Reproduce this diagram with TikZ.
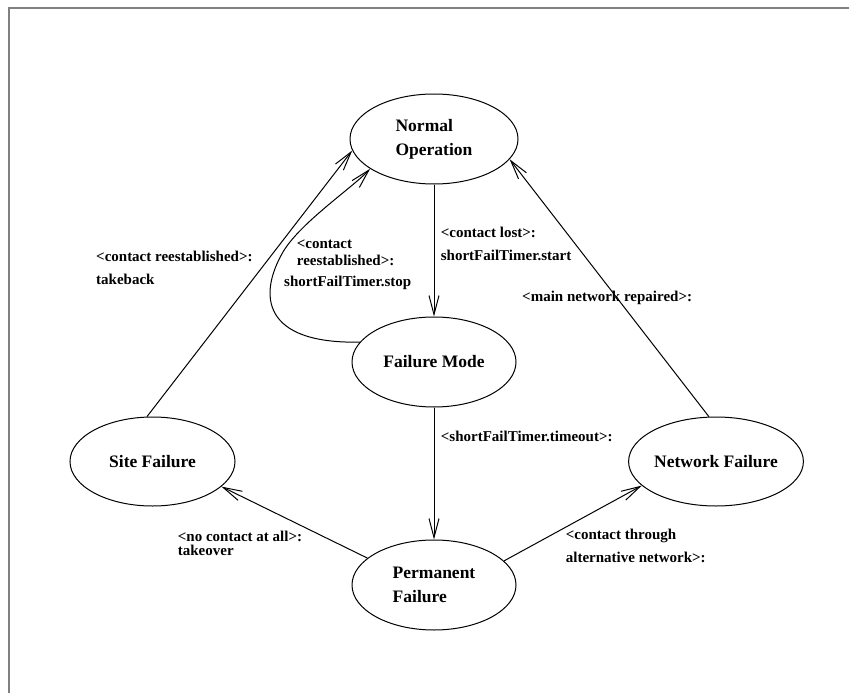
\documentclass[tikz,border=0pt]{standalone}
\usepackage{fontspec}
\setmainfont{Liberation Serif}
\usetikzlibrary{arrows.meta,shapes.geometric}
\begin{document}
\begin{tikzpicture}[x=1pt,y=-1pt,
  state/.style={draw, ellipse, line width=1pt, inner sep=0pt, align=left,
    font=\fontsize{17.5}{24}\selectfont\bfseries},
  trans/.style={line width=1pt, -{Straight Barb[length=19pt,width=10pt,line width=1pt]}},
  lbl/.style={anchor=base west, inner sep=0pt, align=left,
    font=\fontsize{15}{22.5}\selectfont\bfseries},
]
\useasboundingbox (0,0) rectangle (849,693);
% page frame (top and left edges only)
\draw[gray, line width=2pt] (8.5,693) -- (8.5,8.5) -- (849,8.5);

% states
\node[state, minimum width=168pt, minimum height=90pt] (no) at (434,139) {Normal\\Operation};
\node[state, minimum width=164pt, minimum height=90pt] (fm) at (434,362) {Failure Mode};
\node[state, minimum width=165pt, minimum height=89pt] (sf) at (152.5,461.5) {Site Failure};
\node[state, minimum width=166pt, minimum height=89pt] (nf) at (716,461.5) {Network Failure};
\node[state, minimum width=164pt, minimum height=90pt] (pf) at (434,585) {Permanent\\Failure};

% transitions
\draw[trans] (no) -- (fm);
\draw[trans] (fm) -- (pf);
\draw[trans] (fm.165.3) .. controls (262,344) and (258,295) .. (283,252)
                        .. controls (300,223) and (352,188) .. (no.205.8);
\draw[trans] (sf.97) -- (no.188);
\draw[trans] (nf.99.6) -- (no.345.1);
\draw[trans] (pf.158.6) -- (sf.340.7);
\draw[trans] (pf.19.9) -- (nf.198.1);

% transition labels (anchored at the baseline of their last line)
\node[lbl] (l1) at (440.7,260) {<contact lost>:\\shortFailTimer.start};
\node[lbl, font=\fontsize{15}{17}\selectfont\bfseries] (l2a) at (296.7,265.7) {<contact\\reestablished>:};
\node[lbl] (l2b) at (284,286.7) {shortFailTimer.stop};
\node[lbl] (l3) at (96,284) {<contact reestablished>:\\takeback};
\node[lbl] (l4) at (522,301) {<main network repaired>:};
\node[lbl] (l5) at (440.7,441.7) {<shortFailTimer.timeout>:};
\node[lbl, font=\fontsize{15}{14}\selectfont\bfseries] (l6) at (177.7,555) {<no contact at all>:\\takeover};
\node[lbl] (l7) at (565.7,562) {<contact through\\alternative network>:};
\end{tikzpicture}
\end{document}
